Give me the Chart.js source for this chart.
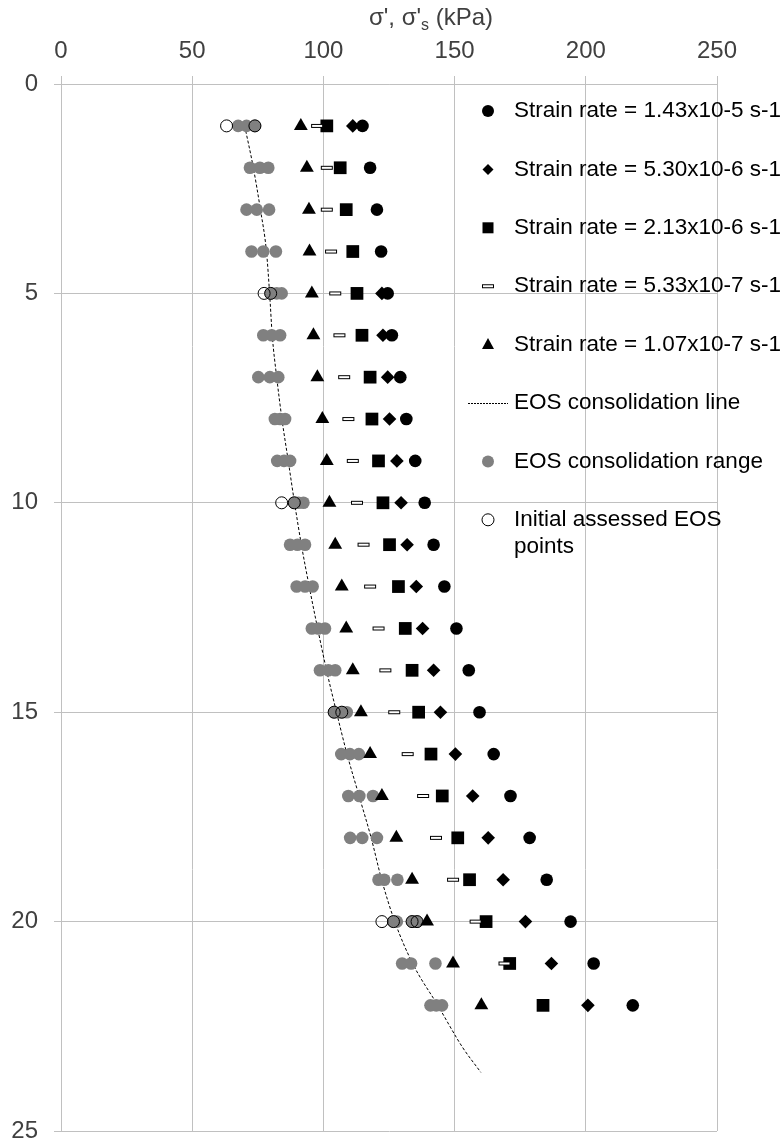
<!DOCTYPE html>
<html>
<head>
<meta charset="utf-8">
<script src="https://cdn.jsdelivr.net/npm/chart.js@4.4.1/dist/chart.umd.min.js"></script>
<style>
  html, body { margin: 0; padding: 0; background: #fff; }
  #wrap { width: 782px; height: 1143px; }
</style>
</head>
<body>
<div id="wrap"><canvas id="plot" width="782" height="1143"></canvas></div>
<script>
// axial strain (%) of each loading step
const strain = [1, 2, 3, 4, 5, 6, 7, 8, 9, 10, 11, 12, 13, 14, 15, 16, 17, 18, 19, 20, 21, 22];

// effective stress (kPa) at each strain, one list per strain rate
const rate143e5 = [114.9, 117.8, 120.4, 122.0, 124.5, 126.1, 129.3, 131.6, 135.0, 138.6, 142.0,
  146.1, 150.7, 155.4, 159.5, 164.9, 171.3, 178.6, 185.1, 194.2, 203.0, 217.9];
const rate530e6 = [111.2, null, null, null, 122.3, 122.7, 124.5, 125.2, 128.0, 129.6, 131.9,
  135.4, 137.8, 142.0, 144.6, 150.3, 156.9, 162.8, 168.5, 177.0, 186.9, 200.8];
const rate213e6 = [101.3, 106.4, 108.7, 111.2, 112.8, 114.7, 117.8, 118.5, 121.0, 122.7, 125.2,
  128.6, 131.2, 133.8, 136.3, 141.0, 145.3, 151.2, 155.7, 162.0, 171.0, 183.7];
const rate533e7 = [97.6, 101.3, 101.3, 102.9, 104.5, 106.1, 107.9, 109.5, 111.2, 112.8, 115.3,
  117.8, 121.0, 123.6, 127.0, 132.1, 138.0, 142.9, 149.4, 158.0, 169.0, null];
const rate107e7 = [91.4, 93.7, 94.5, 94.7, 95.6, 96.2, 97.7, 99.6, 101.3, 102.3, 104.5,
  107.0, 108.7, 111.2, 114.3, 117.8, 122.3, 127.8, 133.8, 139.5, 149.4, 160.2];

// end-of-secondary consolidation range, several estimates per strain
const eosRange = [
  [67.5, 70.7, 73.9], [72.0, 75.8, 79.0], [70.7, 74.6, 79.3], [72.6, 77.1, 81.9],
  [79.9, 82.2, 84.1], [77.1, 80.3, 83.5], [75.2, 79.6, 82.8], [81.5, 83.5, 85.4],
  [82.4, 85.0, 87.3], [88.9, 90.5, 92.4], [87.3, 90.1, 93.0], [89.8, 93.0, 95.9],
  [95.6, 98.0, 100.6], [98.7, 101.9, 104.5], [104.1, 107.0, 108.9], [106.8, 110.1, 113.5],
  [109.5, 113.7, 118.9], [110.2, 114.8, 120.4], [121.0, 123.2, 128.2], [126.7, 128.0, 133.8, 135.7],
  [130.0, 133.4, 142.7], [140.8, 143.0, 145.2]
];

// initial assessed EOS points
const initialStrain = [1, 1, 5, 5, 10, 10, 15, 15, 20, 20, 20, 20];
const initialStress = [63.1, 73.9, 77.4, 79.9, 84.1, 88.9, 104.1, 107.0, 122.3, 126.7, 133.8, 135.7];

// EOS consolidation line
const eosLineStrain = [1, 2, 3, 4, 5, 6, 7, 8, 9, 10, 11, 12, 13, 14, 15, 16, 17, 18, 19, 20, 21, 22, 23, 23.6];
const eosLineStress = [70.0, 73.3, 76.0, 78.3, 79.5, 80.5, 82.2, 84.2, 86.6, 89.0, 91.6, 94.6,
  97.8, 101.2, 105.0, 109.0, 113.6, 118.2, 122.2, 127.2, 134.0, 143.6, 153.0, 160.0];

const legendLabels = [
  ['Strain rate = 1.43x10-5 s-1'],
  ['Strain rate = 5.30x10-6 s-1'],
  ['Strain rate = 2.13x10-6 s-1'],
  ['Strain rate = 5.33x10-7 s-1'],
  ['Strain rate = 1.07x10-7 s-1'],
  ['EOS consolidation line'],
  ['EOS consolidation range'],
  ['Initial assessed EOS', 'points'],
];

const FONT = '"Liberation Sans", Arial, sans-serif';

function toPoints(values) {
  return values
    .map((v, i) => (v == null ? null : { x: v, y: strain[i] }))
    .filter(Boolean);
}

// flat open bar used for the 5.33x10-7 series
function makeDash() {
  const c = document.createElement('canvas');
  c.width = 14;
  c.height = 6;
  const g = c.getContext('2d');
  g.fillStyle = '#fff';
  g.strokeStyle = '#000';
  g.lineWidth = 1;
  g.fillRect(1.5, 1.5, 11, 3);
  g.strokeRect(1.5, 1.5, 11, 3);
  return c;
}
const dashMark = makeDash();

const rangePoints = [];
eosRange.forEach((row, i) => row.forEach((v) => rangePoints.push({ x: v, y: strain[i] })));
const initialPoints = initialStress.map((v, i) => ({ x: v, y: initialStrain[i] }));
const linePoints = eosLineStress.map((v, i) => ({ x: v, y: eosLineStrain[i] }));

function drawMark(ctx, kind, x, y) {
  ctx.save();
  ctx.fillStyle = '#000';
  ctx.strokeStyle = '#000';
  ctx.lineWidth = 1;
  ctx.beginPath();
  if (kind === 'circle') {
    ctx.arc(x, y, 6, 0, Math.PI * 2);
    ctx.fill();
  } else if (kind === 'diamond') {
    ctx.moveTo(x, y - 5.5); ctx.lineTo(x + 5.5, y); ctx.lineTo(x, y + 5.5); ctx.lineTo(x - 5.5, y);
    ctx.closePath();
    ctx.fill();
  } else if (kind === 'square') {
    ctx.rect(x - 5.5, y - 5.5, 11, 11);
    ctx.fill();
  } else if (kind === 'dash') {
    ctx.drawImage(dashMark, x - 7, y - 3);
  } else if (kind === 'triangle') {
    ctx.moveTo(x, y - 6.5); ctx.lineTo(x + 6, y + 4.5); ctx.lineTo(x - 6, y + 4.5);
    ctx.closePath();
    ctx.fill();
  } else if (kind === 'line') {
    ctx.setLineDash([2, 1]);
    ctx.moveTo(x - 20, y + 0.5);
    ctx.lineTo(x + 20, y + 0.5);
    ctx.stroke();
  } else if (kind === 'grey') {
    ctx.fillStyle = '#808080';
    ctx.arc(x, y, 6, 0, Math.PI * 2);
    ctx.fill();
  } else if (kind === 'open') {
    ctx.arc(x, y, 6, 0, Math.PI * 2);
    ctx.stroke();
  }
  ctx.restore();
}

const legendMarks = ['circle', 'diamond', 'square', 'dash', 'triangle', 'line', 'grey', 'open'];

const sideLegend = {
  id: 'sideLegend',
  afterDraw(chart) {
    const ctx = chart.ctx;
    const markX = 488;
    const textX = 514;
    const top = 111;
    const step = 58.4;
    ctx.save();
    ctx.font = '22.5px ' + FONT;
    ctx.fillStyle = '#000';
    ctx.textBaseline = 'middle';
    legendLabels.forEach((lines, i) => {
      const y = top + i * step;
      drawMark(ctx, legendMarks[i], markX, y);
      lines.forEach((t, j) => ctx.fillText(t, textX, y + j * 27));
    });
    ctx.restore();
  },
};

// top axis title with subscript s
const axisTitle = {
  id: 'axisTitle',
  afterDraw(chart) {
    const ctx = chart.ctx;
    const big = '24px ' + FONT;
    const small = '16px ' + FONT;
    const parts = [["σ', σ'", big, 0], ['s', small, 5], [' (kPa)', big, 0]];
    ctx.save();
    ctx.fillStyle = '#404040';
    ctx.textBaseline = 'alphabetic';
    let total = 0;
    parts.forEach((p) => { ctx.font = p[1]; total += ctx.measureText(p[0]).width; });
    let x = 431 - total / 2;
    parts.forEach((p) => {
      ctx.font = p[1];
      ctx.fillText(p[0], x, 25 + p[2]);
      x += ctx.measureText(p[0]).width;
    });
    ctx.restore();
  },
};

const gridColor = '#c0c0c0';
const tickFont = { family: FONT, size: 24 };

new Chart(document.getElementById('plot'), {
  type: 'scatter',
  data: {
    datasets: [
      { label: legendLabels[7][0], data: initialPoints, pointStyle: 'circle', pointRadius: 6,
        backgroundColor: 'rgba(0,0,0,0)', borderColor: '#000', borderWidth: 1, order: 0 },
      { label: legendLabels[4][0], data: toPoints(rate107e7), pointStyle: 'triangle', pointRadius: 8,
        backgroundColor: '#000', borderColor: '#000', borderWidth: 0, order: 1 },
      { label: legendLabels[3][0], data: toPoints(rate533e7), pointStyle: dashMark, order: 2 },
      { label: legendLabels[2][0], data: toPoints(rate213e6), pointStyle: 'rect', pointRadius: 9,
        backgroundColor: '#000', borderColor: '#000', borderWidth: 0, order: 3 },
      { label: legendLabels[1][0], data: toPoints(rate530e6), pointStyle: 'rectRot', pointRadius: 6.8,
        backgroundColor: '#000', borderColor: '#000', borderWidth: 0, order: 4 },
      { label: legendLabels[0][0], data: toPoints(rate143e5), pointStyle: 'circle', pointRadius: 6.3,
        backgroundColor: '#000', borderColor: '#000', borderWidth: 0, order: 5 },
      { label: legendLabels[6][0], data: rangePoints, pointStyle: 'circle', pointRadius: 6.3,
        backgroundColor: '#808080', borderColor: '#808080', borderWidth: 0, order: 6 },
      { label: legendLabels[5][0], data: linePoints, showLine: true, pointRadius: 0,
        borderColor: '#000', borderWidth: 1, borderDash: [3, 2], cubicInterpolationMode: 'monotone',
        fill: false, order: 7 },
    ],
  },
  options: {
    responsive: false,
    animation: false,
    devicePixelRatio: 1,
    layout: { padding: { left: 0, right: 65, top: 0, bottom: 12 } },
    plugins: { legend: { display: false }, tooltip: { enabled: false }, title: { display: false } },
    elements: { point: { hoverRadius: 6 } },
    scales: {
      x: {
        type: 'linear',
        position: 'top',
        min: 0,
        max: 250,
        ticks: { stepSize: 50, color: '#404040', font: tickFont, padding: 10, maxRotation: 0 },
        grid: { color: gridColor, tickLength: 8 },
        border: { color: gridColor },
        afterFit: (scale) => {
          scale.height = 84;
          scale.paddingLeft = 0;
          scale.paddingRight = 0;
        },
      },
      y: {
        type: 'linear',
        reverse: true,
        min: 0,
        max: 25,
        ticks: { stepSize: 5, color: '#404040', font: tickFont, padding: 16 },
        grid: { color: gridColor, tickLength: 7 },
        border: { color: gridColor },
        afterFit: (scale) => {
          scale.width = 61;
          scale.paddingTop = 0;
          scale.paddingBottom = 0;
        },
      },
    },
  },
  plugins: [sideLegend, axisTitle],
});
</script>
</body>
</html>
